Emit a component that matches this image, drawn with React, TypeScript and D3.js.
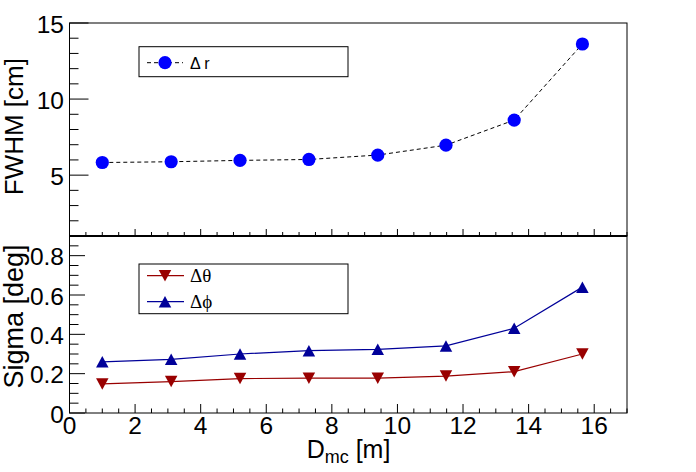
import * as d3 from "d3";

// distance from MC vertex [m]
const distance = [1.0, 3.1, 5.2, 7.3, 9.4, 11.48, 13.56, 15.64];
// FWHM of delta r [cm]
const fwhmR = [5.83, 5.88, 5.97, 6.03, 6.32, 6.97, 8.62, 13.62];
// sigma of delta theta / delta phi [deg]
const sigmaTheta = [0.148, 0.16, 0.175, 0.177, 0.177, 0.188, 0.21, 0.3];
const sigmaPhi = [0.26, 0.273, 0.3, 0.317, 0.324, 0.341, 0.431, 0.64];

const xTicks = [0, 2, 4, 6, 8, 10, 12, 14, 16];
const topTicks = [5, 10, 15];
const botTicks = [0, 0.2, 0.4, 0.6, 0.8];

const W = 696;
const H = 472;
const left = 69.5;
const right = 627;
const top = 23;
const mid = 236;
const bottom = 413;

const thetaColor = "#990000";
const phiColor = "#000099";
const sans = "'Liberation Sans', Arial, Helvetica, sans-serif";
const serif = "'Liberation Serif', 'Times New Roman', serif";

const x = d3.scaleLinear().domain([0, 17]).range([left, right]);
const yTop = d3.scaleLinear().domain([1, 15]).range([mid, top]);
const yBot = d3.scaleLinear().domain([0, 0.9]).range([bottom, mid]);

function tri(cx: number, cy: number, up: boolean, s = 12.5) {
  const h = s * 0.92;
  if (up) return `M${cx - s / 2},${cy + h / 2}L${cx + s / 2},${cy + h / 2}L${cx},${cy - h / 2}Z`;
  return `M${cx - s / 2},${cy - h / 2}L${cx + s / 2},${cy - h / 2}L${cx},${cy + h / 2}Z`;
}

export default function App() {
  const xMinor = d3.range(0, 17.01, 0.5);
  const topMinor = d3.range(1, 15.01, 1);
  const botMinor = d3.range(0, 0.9001, 0.05);

  const lineTop = d3.line<number>().x((_, i) => x(distance[i])).y((d) => yTop(d));
  const lineBot = d3.line<number>().x((_, i) => x(distance[i])).y((d) => yBot(d));

  return (
    <svg width={W} height={H} style={{ position: "absolute", left: 0, top: 0, background: "#fff" }}>
      <rect x={0} y={0} width={W} height={H} fill="#fff" />

      {/* frames */}
      <rect x={left} y={top} width={right - left} height={mid - top} fill="none" stroke="#000" strokeWidth={1} />
      <rect x={left} y={mid} width={right - left} height={bottom - mid} fill="none" stroke="#000" strokeWidth={1} />
      <line x1={left} x2={right} y1={mid} y2={mid} stroke="#000" strokeWidth={2} />

      {/* top panel ticks */}
      {topMinor.map((v) => (
        <line key={"tm" + v} x1={left} x2={left + (topTicks.includes(v) ? 19 : 9)} y1={yTop(v)} y2={yTop(v)} stroke="#000" />
      ))}
      {xMinor.map((v) => (
        <line key={"txm" + v} x1={x(v)} x2={x(v)} y1={mid} y2={mid - (v % 2 === 0 ? 7 : 4)} stroke="#000" />
      ))}
      {topTicks.map((v) => (
        <text key={"tl" + v} x={64} y={yTop(v) + 10} textAnchor="end" fontFamily={sans} fontSize={24.5}>
          {v}
        </text>
      ))}

      {/* bottom panel ticks */}
      {botMinor.map((v, i) => (
        <line key={"bm" + i} x1={left} x2={left + (i % 4 === 0 ? 15.5 : 9)} y1={yBot(v)} y2={yBot(v)} stroke="#000" />
      ))}
      {xMinor.map((v) => (
        <line key={"bxm" + v} x1={x(v)} x2={x(v)} y1={bottom} y2={bottom - (v % 2 === 0 ? 9 : 4.5)} stroke="#000" />
      ))}
      {botTicks.map((v) => (
        <text key={"bl" + v} x={64} y={yBot(v) + 9.5} textAnchor="end" fontFamily={sans} fontSize={24.5}>
          {v === 0 ? "0" : d3.format(".1f")(v)}
        </text>
      ))}
      {xTicks.map((v) => (
        <text key={"xl" + v} x={x(v)} y={434} textAnchor="middle" fontFamily={sans} fontSize={24.5}>
          {v}
        </text>
      ))}

      {/* axis titles */}
      <text transform={`translate(23,126.7) rotate(-90)`} textAnchor="middle" fontFamily={sans} fontSize={26}>
        FWHM [cm]
      </text>
      <text transform={`translate(22.5,316.5) rotate(-90)`} textAnchor="middle" fontFamily={sans} fontSize={27}>
        Sigma [deg]
      </text>
      <text x={348.5} y={458} textAnchor="middle" fontFamily={sans} fontSize={25}>
        D
        <tspan fontSize={18} dy={5}>mc</tspan>
        <tspan dy={-5}> [m]</tspan>
      </text>

      {/* top data */}
      <path d={lineTop(fwhmR) ?? ""} fill="none" stroke="#000" strokeWidth={1} strokeDasharray="4,3" />
      {fwhmR.map((v, i) => (
        <circle key={"r" + i} cx={x(distance[i])} cy={yTop(v)} r={6.6} fill="#0000ff" />
      ))}

      {/* bottom data */}
      <path d={lineBot(sigmaTheta) ?? ""} fill="none" stroke={thetaColor} strokeWidth={1.2} />
      <path d={lineBot(sigmaPhi) ?? ""} fill="none" stroke={phiColor} strokeWidth={1.2} />
      {sigmaTheta.map((v, i) => (
        <path key={"th" + i} d={tri(x(distance[i]), yBot(v), false)} fill={thetaColor} />
      ))}
      {sigmaPhi.map((v, i) => (
        <path key={"ph" + i} d={tri(x(distance[i]), yBot(v), true)} fill={phiColor} />
      ))}

      {/* top legend */}
      <rect x={139} y={46.7} width={209} height={30} fill="#fff" stroke="#000" strokeWidth={1} />
      <line x1={147} x2={183} y1={62.7} y2={62.7} stroke="#000" strokeDasharray="4,3" />
      <circle cx={165} cy={62.7} r={6.6} fill="#0000ff" />
      <text x={190} y={68.5} fontFamily={sans} fontSize={16}>
        Δ r
      </text>

      {/* bottom legend */}
      <rect x={139} y={264} width={209} height={49.7} fill="#fff" stroke="#000" strokeWidth={1} />
      <line x1={147} x2={184} y1={275.7} y2={275.7} stroke={thetaColor} strokeWidth={1.2} />
      <path d={tri(165, 275.7, false)} fill={thetaColor} />
      <text x={190} y={282} fontFamily={serif} fontSize={19}>
        Δθ
      </text>
      <line x1={147} x2={184} y1={301.7} y2={301.7} stroke={phiColor} strokeWidth={1.2} />
      <path d={tri(165, 301.7, true)} fill={phiColor} />
      <text x={190} y={307.8} fontFamily={serif} fontSize={19}>
        Δϕ
      </text>
    </svg>
  );
}
